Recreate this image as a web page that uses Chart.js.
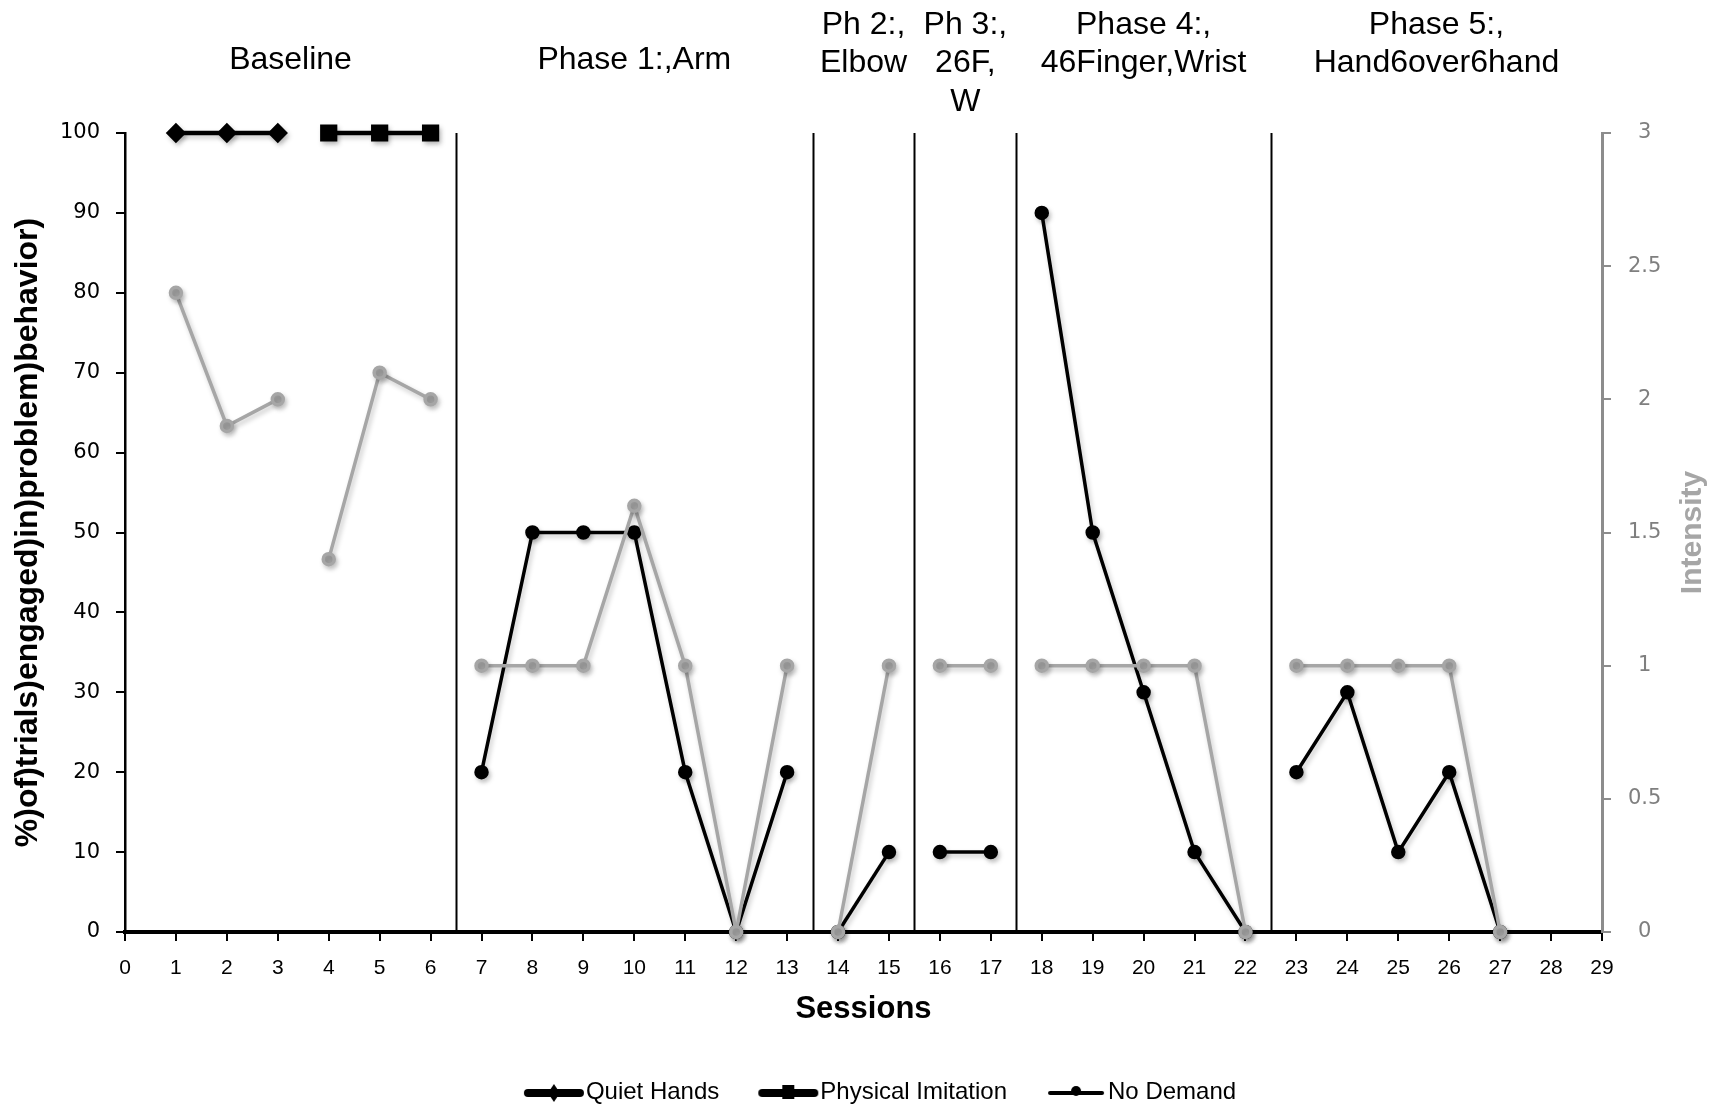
<!DOCTYPE html>
<html lang="en">
<head>
<meta charset="UTF-8">
<title>Sessions</title>
<script src="https://cdn.jsdelivr.net/npm/chart.js"></script>
<style>
  html, body { margin: 0; padding: 0; background: #ffffff; }
  #wrap { width: 1729px; height: 1107px; }
</style>
</head>
<body>
<div id="wrap"><canvas id="chart" width="1729" height="1107"></canvas></div>
<script>
// data
const sessions = [1, 2, 3, 4, 5, 6, 7, 8, 9, 10, 11, 12, 13, 14, 15, 16, 17, 18, 19, 20, 21, 22, 23, 24, 25, 26, 27];
const quietHands = [100, 100, 100, null, null, null, null, null, null, null, null, null, null, null, null, null, null, null, null, null, null, null, null, null, null, null, null];
const physicalImitation = [null, null, null, 100, 100, 100, null, null, null, null, null, null, null, null, null, null, null, null, null, null, null, null, null, null, null, null, null];
const noDemand = [null, null, null, null, null, null, 20, 50, 50, 50, 20, 0, 20, 0, 10, 10, 10, 90, 50, 30, 10, 0, 20, 30, 10, 20, 0];
const intensity = [2.4, 1.9, 2.0, 1.4, 2.1, 2.0, 1, 1, 1, 1.6, 1, 0, 1, 0, 1, 1, 1, 1, 1, 1, 1, 0, 1, 1, 1, 1, 0];

const phaseBounds = [0, 6.5, 13.5, 15.5, 17.5, 22.5, 29];
const phaseLabels = [
  ['Baseline'],
  ['Phase 1:,Arm'],
  ['Ph 2:,', 'Elbow'],
  ['Ph 3:,', '26F,', 'W'],
  ['Phase 4:,', '46Finger,Wrist'],
  ['Phase 5:,', 'Hand6over6hand']
];
// lines are not joined across these points (phase changes + baseline condition switch)
const seriesBreaks = [3.5, 6.5, 13.5, 15.5, 17.5, 22.5];

const GRAY = '#a6a6a6';
const LEGEND_FONT = 24;
const LEGEND_BOX = 81;

function pts(values) {
  return sessions.map((s, i) => ({ x: s, y: values[i] }));
}

function broken(color) {
  return ctx => {
    const a = ctx.p0.parsed.x, b = ctx.p1.parsed.x;
    return seriesBreaks.some(v => v > a && v < b) ? 'rgba(0,0,0,0)' : color;
  };
}

// legend symbol: line + marker, placed so it touches the label text
function legendIcon(kind) {
  const half = LEGEND_FONT / 2;
  const c = document.createElement('canvas');
  c.width = LEGEND_BOX + 2 * half; c.height = 24;
  const g = c.getContext('2d');
  const x0 = c.width - 62, x1 = c.width - 2, mid = (x0 + x1) / 2;
  g.strokeStyle = '#000';
  g.fillStyle = '#000';
  g.lineCap = 'round';
  g.lineWidth = kind === 'circle' ? 4 : 8;
  g.beginPath(); g.moveTo(x0 + 4, 13); g.lineTo(x1 - 4, 13); g.stroke();
  g.beginPath();
  if (kind === 'diamond') {
    g.moveTo(mid, 4); g.lineTo(mid + 6, 13); g.lineTo(mid, 22); g.lineTo(mid - 6, 13);
  } else if (kind === 'square') {
    g.rect(mid - 6, 5, 12, 14);
  } else {
    g.arc(mid, 11, 5, 0, Math.PI * 2);
  }
  g.fill();
  return c;
}

const legendIcons = [legendIcon('diamond'), legendIcon('square'), legendIcon('circle')];

const phasePlugin = {
  id: 'phases',
  beforeDatasetsDraw(chart) {
    const { ctx, chartArea, scales } = chart;
    ctx.save();
    ctx.strokeStyle = '#000';
    ctx.lineWidth = 2;
    phaseBounds.slice(1, -1).forEach(v => {
      const x = Math.round(scales.x.getPixelForValue(v)) + 0.5;
      ctx.beginPath();
      ctx.moveTo(x, scales.y.getPixelForValue(100));
      ctx.lineTo(x, chartArea.bottom);
      ctx.stroke();
    });
    ctx.restore();
  },
  afterDraw(chart) {
    const { ctx, scales, chartArea } = chart;
    ctx.save();
    ctx.fillStyle = '#000';
    ctx.font = '32px "Liberation Sans", Arial, sans-serif';
    ctx.textAlign = 'center';
    ctx.textBaseline = 'middle';
    phaseLabels.forEach((lines, i) => {
      const mid = (phaseBounds[i] + phaseBounds[i + 1]) / 2;
      const x = scales.x.getPixelForValue(mid);
      lines.forEach((t, j) => {
        const y = lines.length === 1 ? 60 : 25 + j * 38.5;
        ctx.fillText(t, x, y);
      });
    });
    // right axis title, reading bottom to top
    ctx.translate(scales.y1.right - 36, (chartArea.top + chartArea.bottom) / 2);
    ctx.rotate(-Math.PI / 2);
    ctx.fillStyle = '#a6a6a6';
    ctx.font = 'bold 30px "Liberation Sans Narrow", "Liberation Sans", Arial, sans-serif';
    ctx.fillText('Intensity', 0, 0);
    ctx.restore();
  }
};

const shadowPlugin = {
  id: 'softShadow',
  beforeDatasetDraw(chart) {
    const ctx = chart.ctx;
    ctx.save();
    ctx.shadowColor = 'rgba(0,0,0,0.22)';
    ctx.shadowBlur = 5;
    ctx.shadowOffsetX = 2;
    ctx.shadowOffsetY = 3;
  },
  afterDatasetDraw(chart) {
    chart.ctx.restore();
  }
};

new Chart(document.getElementById('chart'), {
  type: 'line',
  data: {
    datasets: [
      {
        label: 'Intensity',
        data: pts(intensity),
        yAxisID: 'y1',
        borderColor: GRAY,
        backgroundColor: GRAY,
        borderWidth: 3.5,
        pointRadius: 5.5,
        pointStyle: 'circle',
        segment: { borderColor: broken(GRAY) },
        order: 0,
        clip: false
      },
      {
        label: 'Quiet Hands',
        data: pts(quietHands),
        yAxisID: 'y',
        borderColor: '#000',
        backgroundColor: '#000',
        borderWidth: 4.5,
        pointRadius: 7,
        pointStyle: 'rectRot',
        order: 1,
        clip: false
      },
      {
        label: 'Physical Imitation',
        data: pts(physicalImitation),
        yAxisID: 'y',
        borderColor: '#000',
        backgroundColor: '#000',
        borderWidth: 4.5,
        pointRadius: 9,
        pointStyle: 'rect',
        order: 1,
        clip: false
      },
      {
        label: 'No Demand',
        data: pts(noDemand),
        yAxisID: 'y',
        borderColor: '#000',
        backgroundColor: '#000',
        borderWidth: 3.5,
        pointRadius: 5.5,
        pointStyle: 'circle',
        segment: { borderColor: broken('#000') },
        order: 1,
        clip: false
      }
    ]
  },
  options: {
    responsive: false,
    animation: false,
    spanGaps: false,
    layout: { padding: { top: 133, left: 0, right: 0, bottom: -7 } },
    plugins: {
      tooltip: { enabled: false },
      legend: {
        position: 'bottom',
        labels: {
          color: '#000',
          font: { family: '"Liberation Sans", Arial, sans-serif', size: LEGEND_FONT },
          usePointStyle: true,
          pointStyleWidth: LEGEND_BOX,
          boxHeight: LEGEND_FONT,
          padding: 8,
          generateLabels(chart) {
            return chart.data.datasets.map((ds, i) => ({
              text: ds.label,
              datasetIndex: i,
              fontColor: '#000',
              pointStyle: legendIcons[i - 1],
              lineWidth: 0,
              strokeStyle: 'rgba(0,0,0,0)',
              fillStyle: 'rgba(0,0,0,0)'
            })).filter(l => l.datasetIndex > 0);
          }
        }
      }
    },
    scales: {
      x: {
        type: 'linear',
        min: 0,
        max: 29,
        afterFit(scale) { scale.height = 140; },
        border: { color: '#000', width: 4 },
        grid: { drawOnChartArea: false, drawTicks: true, tickLength: 9, color: '#000', lineWidth: 2 },
        ticks: {
          stepSize: 1,
          autoSkip: false,
          maxRotation: 0,
          padding: 15,
          color: '#000',
          font: { family: '"Liberation Sans Narrow", "Liberation Sans", Arial, sans-serif', size: 21 }
        },
        title: {
          display: true,
          text: 'Sessions',
          color: '#000',
          padding: { top: 4, bottom: 44 },
          font: { family: '"Liberation Sans Narrow", "Liberation Sans", Arial, sans-serif', size: 31, weight: 'bold' }
        }
      },
      y: {
        position: 'left',
        min: 0,
        max: 100,
        afterFit(scale) { scale.width = 125; },
        border: { color: '#000', width: 2.5 },
        grid: { drawOnChartArea: false, drawTicks: true, tickLength: 9, color: '#000', lineWidth: 2 },
        ticks: {
          stepSize: 10,
          padding: 16,
          color: '#000',
          font: { family: '"DejaVu Sans", Verdana, sans-serif', size: 21 }
        },
        title: {
          display: true,
          text: '%)of)trials)engaged)in)problem)behavior)',
          color: '#000',
          padding: { top: 9, bottom: 0 },
          font: { family: '"Liberation Sans Narrow", "Liberation Sans", Arial, sans-serif', size: 32, weight: 'bold' }
        }
      },
      y1: {
        position: 'right',
        min: 0,
        max: 3,
        afterFit(scale) { scale.width = 127; },
        border: { color: '#8c8c8c', width: 3 },
        grid: { drawOnChartArea: false, drawTicks: true, tickLength: 9, color: '#8c8c8c', lineWidth: 2 },
        ticks: {
          stepSize: 0.5,
          padding: 17,
          crossAlign: 'center',
          color: '#7f7f7f',
          font: { family: '"DejaVu Sans", Verdana, sans-serif', size: 21 },
          callback: v => String(v)
        }
      }
    }
  },
  plugins: [phasePlugin, shadowPlugin]
});
</script>
</body>
</html>
